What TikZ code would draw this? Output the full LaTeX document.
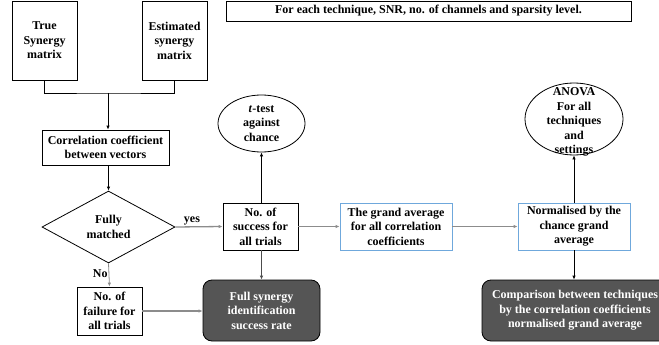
\documentclass[tikz,border=0pt]{standalone}
\usepackage{fontspec}
\setmainfont{Liberation Serif}
\usepackage{tikz}
\usetikzlibrary{arrows.meta,positioning,calc,shapes.geometric}
\definecolor{edgeblue}{HTML}{6FA8DC}
\definecolor{darkfill}{HTML}{555555}
\definecolor{flowgray}{HTML}{8C8C8C}
\tikzset{
  box/.style={draw=black,line width=0.8pt,fill=white,inner sep=2pt,align=center,
    font=\fontsize{12}{14.5}\selectfont\bfseries},
  boxb/.style={box,draw=edgeblue},
  boxd/.style={box,fill=darkfill,text=white,rounded corners=9pt},
  oval/.style={box,ellipse,inner sep=0pt},
  decide/.style={box,diamond,inner sep=0pt},
  plain/.style={inner sep=0pt,align=center,font=\fontsize{12}{14.5}\selectfont\bfseries},
  flow/.style={-{Latex[length=4pt,width=3.5pt]},line width=0.8pt,draw=black},
  flowg/.style={flow,draw=flowgray,line width=1.3pt},
  elabel/.style={font=\fontsize{12}{14.5}\selectfont\bfseries,inner sep=1pt},
}
\begin{document}
\begin{tikzpicture}[x=1pt,y=-1pt]
  \useasboundingbox (0,0) rectangle (659,345);
  \clip (0,0) rectangle (659,345);
  % inputs
  \node[box,minimum width=65pt,minimum height=79pt](truem) at (44.5,40.5){True\\Synergy\\matrix};
  \node[box,minimum width=65pt,minimum height=79pt](estm) at (174.5,40.5){Estimated\\synergy\\matrix};
  \node[box,minimum width=405pt,minimum height=20pt](head) at (428.5,11){For each technique, SNR, no. of channels and sparsity level.};
  % left column
  \node[box,minimum width=127pt,minimum height=35pt](corr) at (105.5,147.5){Correlation coefficient\\between vectors};
  \node[decide,minimum width=133pt,minimum height=72pt,aspect=1.85](dia) at (108.5,227){Fully\\matched};
  \node[box,minimum width=65pt,minimum height=48pt](fail) at (109.5,311){No. of\\failure for\\all trials};
  % middle column
  \node[oval,minimum width=87pt,minimum height=57pt](ttest) at (261.5,123.5){\textit{t}-test\\against\\chance};
  \node[box,minimum width=75pt,minimum height=47pt](succ) at (260.5,226.5){No. of\\success for\\all trials};
  \node[boxd,minimum width=117pt,minimum height=61pt](full) at (261.5,310.5){Full synergy\\identification\\success rate};
  % right part
  \node[boxb,minimum width=112pt,minimum height=47pt](grand) at (396,226.5){The grand average\\for all correlation\\coefficients};
  \node[boxb,minimum width=112pt,minimum height=47pt](norm) at (574,226.5){Normalised by the\\chance grand\\average};
  \node[oval,minimum width=98pt,minimum height=72pt](anova) at (574,119){};
  \node[plain](anovatxt) at (574,122){ANOVA\\For all\\techniques\\and\\settings};
  \node[boxd,minimum width=186pt,minimum height=61pt](comp) at (575,310.5){Comparison between techniques\\by the correlation coefficients\\normalised grand average};
  % connectors
  \coordinate (join) at (108,93);
  \draw[line width=0.8pt] (truem.south) |- (join) -| (estm.south);
  \draw[flow] (join) -- (join |- corr.north);
  \draw[flow] (dia.north |- corr.south) -- (dia.north);
  \draw[flowg] (dia.east) -- node[elabel,above,pos=0.35]{yes} (succ.west);
  \draw[flow,draw=flowgray] (dia.south) -- node[elabel,left,pos=0.45]{No} (fail.north);
  \draw[flowg] (fail.east) -- (full.west |- fail.east);
  \draw[flow] (succ.north -| ttest.south) -- (ttest.south);
  \draw[flow,draw=black!70] (succ.south -| full.north) -- (full.north);
  \draw[flowg] (succ.east) -- (grand.west);
  \draw[flowg] (grand.east) -- (norm.west);
  \draw[flow] (norm.north) -- (anova.south);
  \draw[flow] (norm.south) -- (norm.south |- comp.north);
\end{tikzpicture}
\end{document}
